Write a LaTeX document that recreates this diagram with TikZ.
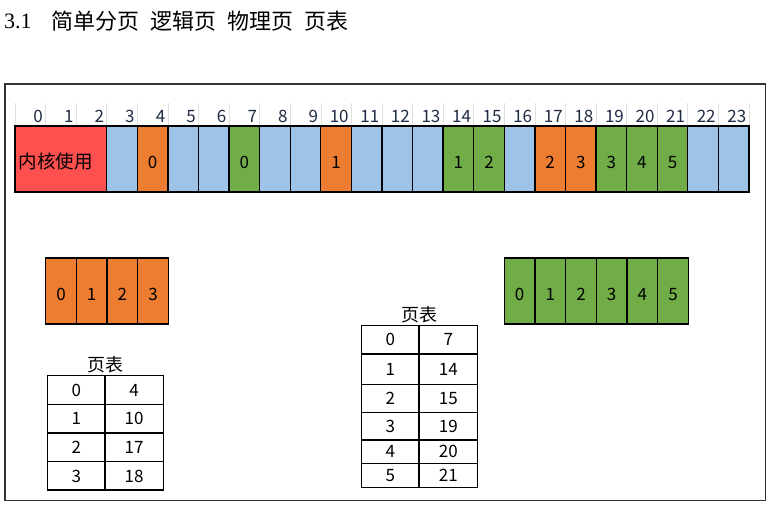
\documentclass[tikz,border=0pt]{standalone}
\usepackage{fontspec}
\setmainfont{Noto Sans CJK SC}
\newfontfamily\secfont{Liberation Serif}
\usetikzlibrary{positioning}
\definecolor{kernel}{HTML}{FF5050}
\definecolor{free}{HTML}{9DC3E6}
\definecolor{procA}{HTML}{ED7D31}
\definecolor{procB}{HTML}{70AD47}
\definecolor{digit}{HTML}{1F2A44}

\begin{document}
\begin{tikzpicture}[x=1pt, y=-1pt,
  cell/.style={draw=black, line width=1.3pt, minimum width=30.6pt,
               minimum height=66pt, inner sep=0pt, text height=18.5pt,
               text depth=0pt, font=\fontsize{17}{19}\selectfont},
  tcell/.style={draw=black, line width=1.3pt, inner sep=0pt, text height=12.5pt,
                text depth=0pt, font=\fontsize{17}{19}\selectfont},
  idx/.style={anchor=base east, inner sep=0pt, text=digit,
              font=\fontsize{17}{19}\selectfont},
  head/.style={inner sep=0pt, font=\fontsize{18}{20}\selectfont},
  gline/.style={black!12, line width=0.6pt}
]
  \useasboundingbox (0,0) rectangle (772,505);

  \node[anchor=base west, inner sep=0pt, font=\secfont\fontsize{22}{24}\selectfont]
    (secno) at (4,28.5) {3.1};
  \node[anchor=west, inner sep=0pt, font=\fontsize{22}{24}\selectfont] (title) at (51,21.5)
    {简单分页\hspace{0.5em}逻辑页\hspace{0.5em}物理页\hspace{0.5em}页表};

  \draw[line width=1.6pt, black!80] (5,84) rectangle (765.5,500.5);

  \foreach \k in {0,...,24}
    \draw[gline] ({15+30.58*\k},103) -- ({15+30.58*\k},126);
  \foreach \i in {0,...,23}
    \node[idx] (n\i) at ({15+30.58*(\i+1)-2.5},122.5) {\i};

  \node[cell, fill=kernel, minimum width=91.74pt, text width=84pt, align=left,
        font=\fontsize{18.5}{20}\selectfont]
    (m0) at (60.87,159) {内核使用};
  \foreach \i/\c/\t in {3/free/{},4/procA/0,5/free/{},6/free/{},7/procB/0,
      8/free/{},9/free/{},10/procA/1,11/free/{},12/free/{},13/free/{},
      14/procB/1,15/procB/2,16/free/{},17/procA/2,18/procA/3,19/procB/3,
      20/procB/4,21/procB/5,22/free/{},23/free/{}}
    \node[cell, fill=\c] (m\i) at ({15+30.58*(\i+0.5)},159) {\t};

  \foreach \i in {0,...,3}
    \node[cell, fill=procA] (a\i) at ({45.7+30.65*(\i+0.5)},291) {\i};
  \foreach \i in {0,...,5}
    \node[cell, fill=procB] (b\i) at ({504.3+30.67*(\i+0.5)},291) {\i};

  \node[head] (ptA) at (105.5,365) {页表};
  \foreach \r/\f/\y in {0/4/390,1/10/418.6,2/17/447.2,3/18/475.8} {
    \node[tcell, minimum width=57.3pt, minimum height=28.6pt] (pa\r) at (76.35,\y) {\r};
    \node[tcell, minimum width=58.3pt, minimum height=28.6pt] (fa\r) at (134.15,\y) {\f};
  }

  \node[head] (ptB) at (419.5,315) {页表};
  \foreach \r/\f/\y/\h in {0/7/339.75/28.5,1/14/369.25/30.5,2/15/398.4/27.8,
      3/19/426.15/27.7,4/20/451.65/23.3,5/21/475.3/24} {
    \node[tcell, minimum width=57.3pt, minimum height=\h pt] (pb\r) at (390.35,\y) {\r};
    \node[tcell, minimum width=58.7pt, minimum height=\h pt] (fb\r) at (448.35,\y) {\f};
  }
\end{tikzpicture}
\end{document}
